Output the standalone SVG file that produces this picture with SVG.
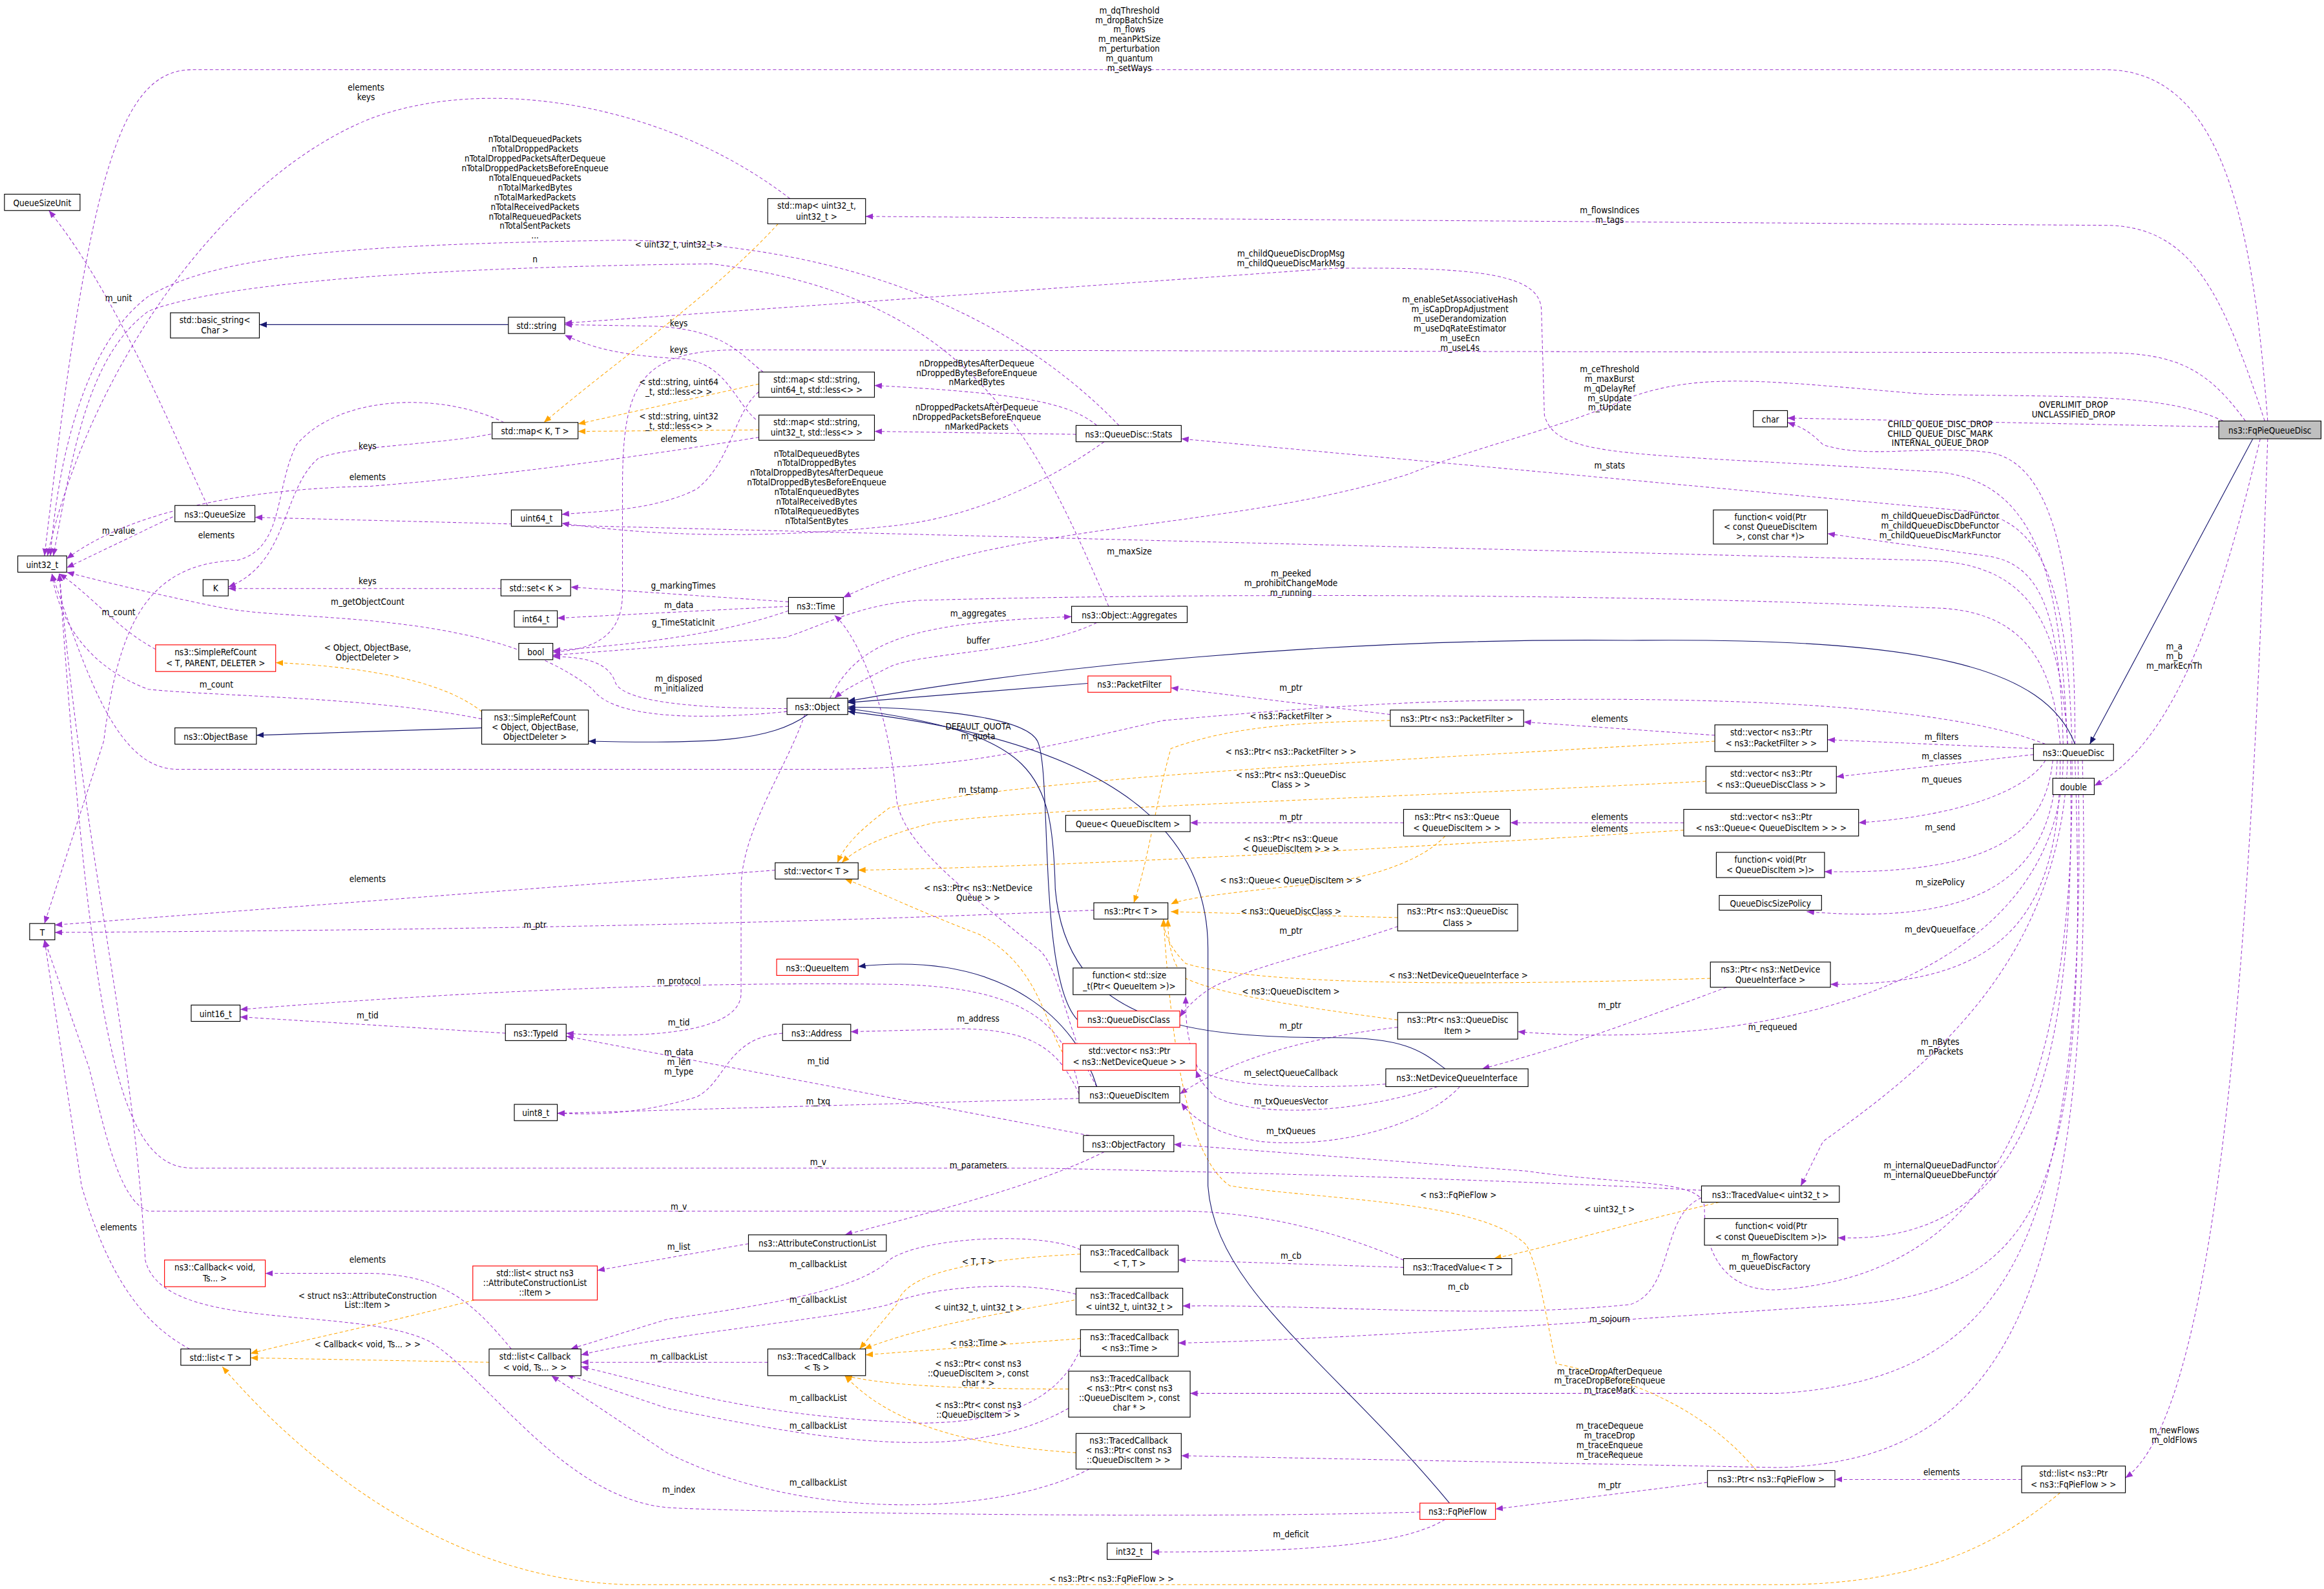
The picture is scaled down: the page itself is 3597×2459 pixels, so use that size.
<svg xmlns="http://www.w3.org/2000/svg" width="3597" height="2459" viewBox="0 0 3597 2459">
<defs>
<style>
.n rect{fill:#fff;stroke:#000;stroke-width:0.5}
.r rect{stroke:#f00}
.g rect{fill:#bfbfbf}
text{font-family:"DejaVu Sans Condensed","Liberation Sans",sans-serif;font-size:5.9px;fill:#000;text-anchor:middle}
.p{fill:none;stroke:#9a32cd;stroke-width:0.45;stroke-dasharray:2.2,1.6;marker-end:url(#ap)}
.o{fill:none;stroke:#ffa500;stroke-width:0.45;stroke-dasharray:2.2,1.6;marker-end:url(#ao)}
.b{fill:none;stroke:#191970;stroke-width:0.5;marker-end:url(#ab)}
</style>
<marker id="ap" markerUnits="userSpaceOnUse" viewBox="0 0 10 10" refX="10" refY="5" markerWidth="5" markerHeight="5" orient="auto"><path d="M0,1L10,5L0,9z" fill="#9a32cd"/></marker>
<marker id="ao" markerUnits="userSpaceOnUse" viewBox="0 0 10 10" refX="10" refY="5" markerWidth="5" markerHeight="5" orient="auto"><path d="M0,1L10,5L0,9z" fill="#ffa500"/></marker>
<marker id="ab" markerUnits="userSpaceOnUse" viewBox="0 0 10 10" refX="10" refY="5" markerWidth="5" markerHeight="5" orient="auto"><path d="M0,1L10,5L0,9z" fill="#191970"/></marker>
</defs>
<rect width="3597" height="2459" fill="#fff"/>
<g transform="scale(2.294)">
<g id="edges">
<path class="p" d="M1530,284 C1520,150 1500,47 1420,47 L130,47 C80,47 60,120 30,375"/>
<path class="p" d="M1528,284 C1500,200 1480,152 1420,152 L584,146"/>
<path class="p" d="M533,134 C450,70 330,50 250,80 C150,120 60,250 32,375"/>
<path class="p" d="M755,287 C700,230 600,165 420,162 C250,165 150,170 100,200 C60,230 40,300 34,375"/>
<path class="p" d="M748,409 C700,300 660,200 480,178 C300,180 150,190 100,210 C60,240 50,300 36,375"/>
<path class="p" d="M1395,502 C1390,400 1380,320 1300,318 C1100,305 1050,310 1042,280 L1040,210 C1040,185 1000,180 900,181 L381,218"/>
<path class="p" d="M1515,284 C1490,250 1470,238 1420,238 L500,236 C430,236 420,260 420,330 L420,400 C420,430 400,438 373,440"/>
<path class="p" d="M1500,284 C1460,265 1400,268 1300,266 C1200,258 1150,250 1100,268 C1050,290 1000,300 950,320 C820,360 680,350 569,403"/>
<path class="p" d="M1497,288 L1206,282"/>
<path class="p" d="M1400,502 C1400,400 1390,310 1340,305 C1300,300 1260,310 1230,300 C1220,290 1215,288 1206,285"/>
<path class="p" d="M1398,502 C1395,400 1380,350 1330,345 L797,296"/>
<path class="p" d="M740,287 C720,270 680,265 590,260"/>
<path class="p" d="M726,293 L590,291"/>
<path class="p" d="M745,298 C700,330 650,350 600,355 C500,365 430,360 379,353"/>
<path class="p" d="M515,251 C500,240 490,222 440,220 L381,219"/>
<path class="p" d="M510,283 C495,270 490,245 460,242 C420,240 400,235 381,226"/>
<path class="p" d="M515,262 C495,275 495,310 470,330 C440,345 400,345 379,347"/>
<path class="p" d="M512,295 C450,305 350,320 250,328 C150,330 80,350 45,377"/>
<path class="p" d="M335,292 C300,300 240,300 215,309 C190,330 195,380 154,396"/>
<path class="p" d="M340,285 C300,265 230,265 200,300 C185,330 192,370 160,378 C100,380 80,420 70,500 L30,623"/>
<path class="p" d="M120,347 L45,383"/>
<path class="p" d="M140,341 C120,300 80,200 33,142"/>
<path class="p" d="M1395,502 C1390,420 1370,380 1300,378 L172,349"/>
<path class="p" d="M338,397 L154,397"/>
<path class="p" d="M532,406 L385,396"/>
<path class="p" d="M532,409 L376,417"/>
<path class="p" d="M532,412 C480,430 420,435 373,439"/>
<path class="p" d="M1390,502 C1385,440 1360,410 1300,410 C1100,400 800,400 620,405 C580,408 560,420 530,430 L373,442"/>
<path class="p" d="M531,478 C480,478 420,475 415,460 C410,445 390,443 373,443"/>
<path class="p" d="M560,471 C580,430 620,420 723,416"/>
<path class="p" d="M740,420 C700,440 620,440 600,450 C580,460 570,465 563,471"/>
<path class="p" d="M105,438 C80,425 60,400 40,387"/>
<path class="p" d="M325,485 C250,470 150,470 100,465 C60,450 40,420 35,387"/>
<path class="p" d="M531,480 C450,488 410,480 400,465 C330,410 200,420 150,410 C100,400 60,390 45,386"/>
<path class="p" d="M1380,502 C1300,470 1100,470 985,473 C900,475 800,485 785,486 C700,505 650,519 550,519 L120,519 C80,519 60,460 35,387"/>
<path class="p" d="M938,482 L790,464"/>
<path class="p" d="M1157,496 L1028,487"/>
<path class="p" d="M1372,505 L1233,499"/>
<path class="p" d="M1372,509 L1239,524"/>
<path class="p" d="M1380,513 C1370,530 1330,550 1254,555"/>
<path class="p" d="M1136,555 L1019,555"/>
<path class="p" d="M947,555 L803,555"/>
<path class="p" d="M1385,513 C1380,560 1350,590 1231,588"/>
<path class="p" d="M1388,513 C1385,590 1340,625 1219,615"/>
<path class="p" d="M1390,513 C1390,620 1350,665 1235,664"/>
<path class="p" d="M1392,513 C1390,660 1200,710 1024,696"/>
<path class="p" d="M1395,513 C1390,650 1300,720 1230,770 L1215,800"/>
<path class="p" d="M1397,513 C1400,700 1380,840 1240,835"/>
<path class="p" d="M1392,502 C1390,420 1380,380 1340,375 L1233,360"/>
<path class="p" d="M1398,513 C1400,750 1340,860 1200,870 C1160,872 1150,840 1150,815 C1150,795 1100,800 1030,790 L792,772"/>
<path class="p" d="M1148,803 C1000,795 800,790 700,788 L130,788 C80,788 62,700 40,387"/>
<path class="p" d="M947,850 C900,830 850,818 800,817 L100,817 C80,810 70,760 60,720 L30,634"/>
<path class="p" d="M735,766 L382,699"/>
<path class="p" d="M745,777 C700,800 620,820 570,833"/>
<path class="p" d="M505,839 L403,857"/>
<path class="p" d="M345,910 C320,880 300,860 250,859 L179,859"/>
<path class="p" d="M341,697 L162,686"/>
<path class="p" d="M728,735 C720,690 690,665 600,664 C450,662 300,670 162,681"/>
<path class="p" d="M728,738 C715,710 700,695 650,694 L574,696"/>
<path class="p" d="M728,741 L376,751"/>
<path class="p" d="M528,697 C490,700 490,730 470,740 C430,752 400,752 376,751"/>
<path class="p" d="M543,482 C530,520 500,560 500,600 L500,670 C500,700 420,700 382,697"/>
<path class="p" d="M523,587 L37,624"/>
<path class="p" d="M738,614 C600,620 400,627 37,629"/>
<path class="p" d="M740,733 C720,700 715,650 700,640 C650,600 610,570 605,540 C600,480 580,430 563,415"/>
<path class="p" d="M943,625 C900,640 850,650 820,665 C810,670 800,680 796,686"/>
<path class="p" d="M943,693 C880,700 830,715 796,738"/>
<path class="p" d="M1165,666 C1100,690 1060,705 1000,721"/>
<path class="p" d="M950,730 C900,735 820,735 808,720 C800,700 800,685 800,672"/>
<path class="p" d="M970,733 C920,750 850,755 820,740 C812,732 809,728 807,722"/>
<path class="p" d="M985,733 C960,760 900,775 850,770 C820,765 805,755 797,744"/>
<path class="p" d="M947,855 L795,850"/>
<path class="p" d="M1148,808 C1120,820 1130,870 1100,880 C1000,890 900,880 798,881"/>
<path class="p" d="M1400,513 C1410,800 1380,870 1250,880 C1100,890 900,904 795,906"/>
<path class="p" d="M1402,513 C1410,850 1350,930 1200,940 L803,940"/>
<path class="p" d="M1405,513 C1415,900 1340,985 1200,990 L797,982"/>
<path class="p" d="M1152,1000 L1009,1018"/>
<path class="p" d="M1364,998 L1238,998"/>
<path class="p" d="M1530,296 C1520,600 1500,950 1434,997"/>
<path class="p" d="M1525,296 C1500,400 1470,500 1413,530"/>
<path class="p" d="M975,1025 C950,1040 900,1047 777,1047"/>
<path class="p" d="M958,1020 C800,1025 500,1020 450,1017 C380,1010 330,930 290,905 C240,880 110,900 98,850 C90,700 60,600 40,387"/>
<path class="p" d="M518,919 L392,919"/>
<path class="p" d="M729,843 C700,830 620,835 600,850 C580,870 520,880 450,890 L385,910"/>
<path class="p" d="M726,873 C680,862 620,870 600,880 C560,890 450,900 392,914"/>
<path class="p" d="M729,910 C720,930 700,960 620,960 C500,955 450,935 392,922"/>
<path class="p" d="M721,950 C650,990 550,970 450,950 L382,927"/>
<path class="p" d="M735,991 C680,1020 550,1030 450,980 L372,928"/>
<path class="p" d="M128,910 C90,890 70,850 55,800 L30,634"/>
<path class="o" d="M525,151 C480,200 420,240 367,285"/>
<path class="o" d="M512,259 L390,286"/>
<path class="o" d="M512,290 L390,291"/>
<path class="o" d="M325,480 C300,460 250,450 186,447"/>
<path class="o" d="M1157,500 C900,515 700,525 600,545 C580,560 570,570 565,582"/>
<path class="o" d="M1151,527 C900,540 700,545 630,555 C590,565 575,575 568,582"/>
<path class="o" d="M1136,560 C900,575 700,585 579,587"/>
<path class="o" d="M717,710 C705,690 700,650 660,630 C620,615 590,600 570,593"/>
<path class="o" d="M938,486 C880,487 830,490 790,505 C780,540 775,580 765,609"/>
<path class="o" d="M975,564 C960,580 930,590 900,595 C850,600 800,605 790,610"/>
<path class="o" d="M943,619 L790,615"/>
<path class="o" d="M1154,660 C1000,665 850,665 800,650 C790,640 785,630 785,620"/>
<path class="o" d="M943,688 C880,680 820,670 800,660 C790,650 788,635 788,620"/>
<path class="o" d="M1185,992 C1150,950 1100,930 1050,920 C1045,900 1040,860 1030,840 C1000,810 900,810 830,800 C800,780 790,700 785,620"/>
<path class="o" d="M1160,811 C1100,825 1050,840 1008,849"/>
<path class="o" d="M729,846 C650,850 610,860 605,880 L580,910"/>
<path class="o" d="M725,877 C680,885 620,895 583,910"/>
<path class="o" d="M729,903 L584,914"/>
<path class="o" d="M721,937 C650,937 600,935 570,928"/>
<path class="o" d="M726,980 C650,975 600,960 570,928"/>
<path class="o" d="M320,877 C250,895 200,905 169,913"/>
<path class="o" d="M330,919 L169,916"/>
<path class="o" d="M1390,1007 C1350,1040 1300,1069 1200,1069 L430,1069 C300,1069 200,980 150,922"/>
<path class="b" d="M343,219 L175,219"/>
<path class="b" d="M325,491 L173,496"/>
<path class="b" d="M545,482 C520,500 480,502 397,500"/>
<path class="b" d="M1400,502 C1380,450 1300,430 1100,432 C900,430 700,450 572,473"/>
<path class="b" d="M734,461 L572,474"/>
<path class="b" d="M1520,296 L1410,502"/>
<path class="b" d="M727,688 C700,660 710,520 700,500 C690,480 600,477 572,477"/>
<path class="b" d="M975,721 C960,710 950,700 900,700 C800,700 720,690 712,600 C710,520 700,495 572,478"/>
<path class="b" d="M978,1014 C900,920 820,870 815,800 L815,640 C815,560 750,500 572,480"/>
<path class="b" d="M740,733 C730,700 690,640 579,652"/>
</g>
<g id="labels">
<text x="762" y="9">m_dqThreshold</text><text x="762" y="15.5">m_dropBatchSize</text><text x="762" y="22">m_flows</text><text x="762" y="28.5">m_meanPktSize</text><text x="762" y="35">m_perturbation</text><text x="762" y="41.5">m_quantum</text><text x="762" y="48">m_setWays</text>
<text x="1086" y="144">m_flowsIndices</text><text x="1086" y="150.5">m_tags</text>
<text x="247" y="61">elements</text><text x="247" y="67.5">keys</text>
<text x="361" y="96">nTotalDequeuedPackets</text><text x="361" y="102.5">nTotalDroppedPackets</text><text x="361" y="109">nTotalDroppedPacketsAfterDequeue</text><text x="361" y="115.5">nTotalDroppedPacketsBeforeEnqueue</text><text x="361" y="122">nTotalEnqueuedPackets</text><text x="361" y="128.5">nTotalMarkedBytes</text><text x="361" y="135">nTotalMarkedPackets</text><text x="361" y="141.5">nTotalReceivedPackets</text><text x="361" y="148">nTotalRequeuedPackets</text><text x="361" y="154.5">nTotalSentPackets</text><text x="361" y="161">...</text>
<text x="458" y="167">&lt; uint32_t, uint32_t &gt;</text>
<text x="361" y="177">n</text>
<text x="871" y="173">m_childQueueDiscDropMsg</text><text x="871" y="179.5">m_childQueueDiscMarkMsg</text>
<text x="985" y="204">m_enableSetAssociativeHash</text><text x="985" y="210.5">m_isCapDropAdjustment</text><text x="985" y="217">m_useDerandomization</text><text x="985" y="223.5">m_useDqRateEstimator</text><text x="985" y="230">m_useEcn</text><text x="985" y="236.5">m_useL4s</text>
<text x="1086" y="251">m_ceThreshold</text><text x="1086" y="257.5">m_maxBurst</text><text x="1086" y="264">m_qDelayRef</text><text x="1086" y="270.5">m_sUpdate</text><text x="1086" y="277">m_tUpdate</text>
<text x="1399" y="275">OVERLIMIT_DROP</text><text x="1399" y="281.5">UNCLASSIFIED_DROP</text>
<text x="1309" y="288">CHILD_QUEUE_DISC_DROP</text><text x="1309" y="294.5">CHILD_QUEUE_DISC_MARK</text><text x="1309" y="301">INTERNAL_QUEUE_DROP</text>
<text x="1086" y="316">m_stats</text>
<text x="80" y="203">m_unit</text>
<text x="458" y="220">keys</text><text x="458" y="238">keys</text>
<text x="659" y="247">nDroppedBytesAfterDequeue</text><text x="659" y="253.5">nDroppedBytesBeforeEnqueue</text><text x="659" y="260">nMarkedBytes</text>
<text x="458" y="260">&lt; std::string, uint64</text><text x="458" y="266.5">_t, std::less&lt;&gt; &gt;</text>
<text x="659" y="277">nDroppedPacketsAfterDequeue</text><text x="659" y="283.5">nDroppedPacketsBeforeEnqueue</text><text x="659" y="290">nMarkedPackets</text>
<text x="458" y="283">&lt; std::string, uint32</text><text x="458" y="289.5">_t, std::less&lt;&gt; &gt;</text>
<text x="458" y="298">elements</text>
<text x="248" y="303">keys</text><text x="248" y="324">elements</text>
<text x="551" y="308">nTotalDequeuedBytes</text><text x="551" y="314.5">nTotalDroppedBytes</text><text x="551" y="321">nTotalDroppedBytesAfterDequeue</text><text x="551" y="327.5">nTotalDroppedBytesBeforeEnqueue</text><text x="551" y="334">nTotalEnqueuedBytes</text><text x="551" y="340.5">nTotalReceivedBytes</text><text x="551" y="347">nTotalRequeuedBytes</text><text x="551" y="353.5">nTotalSentBytes</text>
<text x="1309" y="350">m_childQueueDiscDadFunctor</text><text x="1309" y="356.5">m_childQueueDiscDbeFunctor</text><text x="1309" y="363">m_childQueueDiscMarkFunctor</text>
<text x="80" y="360">m_value</text><text x="146" y="363">elements</text>
<text x="762" y="374">m_maxSize</text>
<text x="871" y="389">m_peeked</text><text x="871" y="395.5">m_prohibitChangeMode</text><text x="871" y="402">m_running</text>
<text x="248" y="394">keys</text><text x="461" y="397">g_markingTimes</text><text x="458" y="410">m_data</text><text x="461" y="422">g_TimeStaticInit</text>
<text x="248" y="408">m_getObjectCount</text><text x="80" y="415">m_count</text>
<text x="660" y="416">m_aggregates</text><text x="660" y="434">buffer</text>
<text x="1467" y="438">m_a</text><text x="1467" y="444.5">m_b</text><text x="1467" y="451">m_markEcnTh</text>
<text x="248" y="439">&lt; Object, ObjectBase,</text><text x="248" y="445.5">ObjectDeleter &gt;</text>
<text x="458" y="460">m_disposed</text><text x="458" y="466.5">m_initialized</text><text x="146" y="464">m_count</text>
<text x="871" y="466">m_ptr</text>
<text x="871" y="485">&lt; ns3::PacketFilter &gt;</text><text x="1086" y="487">elements</text>
<text x="660" y="492">DEFAULT_QUOTA</text><text x="660" y="498.5">m_quota</text>
<text x="1310" y="499">m_filters</text><text x="871" y="509">&lt; ns3::Ptr&lt; ns3::PacketFilter &gt; &gt;</text>
<text x="1310" y="512">m_classes</text>
<text x="871" y="525">&lt; ns3::Ptr&lt; ns3::QueueDisc</text><text x="871" y="531.5">Class &gt; &gt;</text>
<text x="1310" y="528">m_queues</text><text x="660" y="535">m_tstamp</text>
<text x="871" y="553">m_ptr</text><text x="1086" y="553">elements</text><text x="1086" y="561">elements</text>
<text x="1309" y="560">m_send</text>
<text x="871" y="568">&lt; ns3::Ptr&lt; ns3::Queue</text><text x="871" y="574.5">&lt; QueueDiscItem &gt; &gt; &gt;</text>
<text x="248" y="595">elements</text>
<text x="871" y="596">&lt; ns3::Queue&lt; QueueDiscItem &gt; &gt;</text><text x="1309" y="597">m_sizePolicy</text>
<text x="660" y="601">&lt; ns3::Ptr&lt; ns3::NetDevice</text><text x="660" y="607.5">Queue &gt; &gt;</text>
<text x="871" y="617">&lt; ns3::QueueDiscClass &gt;</text><text x="361" y="626">m_ptr</text>
<text x="871" y="630">m_ptr</text><text x="1309" y="629">m_devQueueIface</text>
<text x="984" y="660">&lt; ns3::NetDeviceQueueInterface &gt;</text><text x="458" y="664">m_protocol</text>
<text x="871" y="671">&lt; ns3::QueueDiscItem &gt;</text><text x="1086" y="680">m_ptr</text>
<text x="248" y="687">m_tid</text><text x="660" y="689">m_address</text><text x="458" y="692">m_tid</text>
<text x="871" y="694">m_ptr</text><text x="1196" y="695">m_requeued</text>
<text x="1309" y="705">m_nBytes</text><text x="1309" y="711.5">m_nPackets</text>
<text x="458" y="712">m_data</text><text x="458" y="718.5">m_len</text><text x="458" y="725">m_type</text>
<text x="552" y="718">m_tid</text>
<text x="871" y="726">m_selectQueueCallback</text><text x="552" y="745">m_txq</text><text x="871" y="745">m_txQueuesVector</text>
<text x="871" y="765">m_txQueues</text>
<text x="552" y="786">m_v</text><text x="660" y="788">m_parameters</text>
<text x="1309" y="788">m_internalQueueDadFunctor</text><text x="1309" y="794.5">m_internalQueueDbeFunctor</text>
<text x="984" y="808">&lt; ns3::FqPieFlow &gt;</text><text x="458" y="816">m_v</text><text x="1086" y="818">&lt; uint32_t &gt;</text>
<text x="80" y="830">elements</text><text x="458" y="843">m_list</text>
<text x="871" y="849">m_cb</text><text x="1194" y="850">m_flowFactory</text><text x="1194" y="856.5">m_queueDiscFactory</text>
<text x="248" y="852">elements</text><text x="660" y="853">&lt; T, T &gt;</text><text x="552" y="855">m_callbackList</text>
<text x="984" y="870">m_cb</text><text x="248" y="876">&lt; struct ns3::AttributeConstruction</text><text x="248" y="882.5">List::Item &gt;</text>
<text x="552" y="879">m_callbackList</text><text x="660" y="884">&lt; uint32_t, uint32_t &gt;</text>
<text x="1086" y="892">m_sojourn</text><text x="660" y="908">&lt; ns3::Time &gt;</text><text x="248" y="909">&lt; Callback&lt; void, Ts... &gt; &gt;</text>
<text x="458" y="917">m_callbackList</text>
<text x="660" y="922">&lt; ns3::Ptr&lt; const ns3</text><text x="660" y="928.5">::QueueDiscItem &gt;, const</text><text x="660" y="935">char * &gt;</text>
<text x="1086" y="927">m_traceDropAfterDequeue</text><text x="1086" y="933.5">m_traceDropBeforeEnqueue</text><text x="1086" y="940">m_traceMark</text>
<text x="552" y="945">m_callbackList</text><text x="660" y="950">&lt; ns3::Ptr&lt; const ns3</text><text x="660" y="956.5">::QueueDiscItem &gt; &gt;</text>
<text x="552" y="964">m_callbackList</text>
<text x="1086" y="964">m_traceDequeue</text><text x="1086" y="970.5">m_traceDrop</text><text x="1086" y="977">m_traceEnqueue</text><text x="1086" y="983.5">m_traceRequeue</text>
<text x="1467" y="967">m_newFlows</text><text x="1467" y="973.5">m_oldFlows</text>
<text x="1310" y="995">elements</text><text x="552" y="1002">m_callbackList</text><text x="1086" y="1004">m_ptr</text>
<text x="458" y="1007">m_index</text><text x="871" y="1037">m_deficit</text>
<text x="750" y="1067">&lt; ns3::Ptr&lt; ns3::FqPieFlow &gt; &gt;</text>
</g>
<g id="n1" class="n"><rect x="3" y="131" width="51" height="11"/><text x="28.5" y="139">QueueSizeUnit</text></g>
<g id="n2" class="n"><rect x="12" y="375" width="33" height="11"/><text x="28.5" y="383">uint32_t</text></g>
<g id="n3" class="n"><rect x="115" y="211" width="60" height="17"/><text x="145" y="218">std::basic_string&lt;</text><text x="145" y="225">Char &gt;</text></g>
<g id="n4" class="n"><rect x="343" y="214" width="38" height="11"/><text x="362" y="222">std::string</text></g>
<g id="n5" class="n"><rect x="332" y="285" width="58" height="11"/><text x="361" y="293">std::map&lt; K, T &gt;</text></g>
<g id="n6" class="n"><rect x="518" y="134" width="66" height="17"/><text x="551" y="141">std::map&lt; uint32_t,</text><text x="551" y="148">uint32_t &gt;</text></g>
<g id="n7" class="n"><rect x="512" y="251" width="78" height="17"/><text x="551" y="258">std::map&lt; std::string,</text><text x="551" y="265">uint64_t, std::less&lt;&gt; &gt;</text></g>
<g id="n8" class="n"><rect x="512" y="280" width="78" height="17"/><text x="551" y="287">std::map&lt; std::string,</text><text x="551" y="294">uint32_t, std::less&lt;&gt; &gt;</text></g>
<g id="n9" class="n"><rect x="726" y="287" width="71" height="11"/><text x="761.5" y="295">ns3::QueueDisc::Stats</text></g>
<g id="n10" class="n"><rect x="345" y="344" width="34" height="11"/><text x="362" y="352">uint64_t</text></g>
<g id="n11" class="n"><rect x="118" y="341" width="54" height="11"/><text x="145" y="349">ns3::QueueSize</text></g>
<g id="n12" class="n"><rect x="137" y="391" width="17" height="11"/><text x="145.5" y="399">K</text></g>
<g id="n13" class="n"><rect x="338" y="391" width="47" height="11"/><text x="361.5" y="399">std::set&lt; K &gt;</text></g>
<g id="n14" class="n"><rect x="532" y="403" width="37" height="11"/><text x="550.5" y="411">ns3::Time</text></g>
<g id="n15" class="n"><rect x="347" y="412" width="29" height="11"/><text x="361.5" y="420">int64_t</text></g>
<g id="n16" class="n"><rect x="350" y="434" width="23" height="11"/><text x="361.5" y="442">bool</text></g>
<g id="n17" class="n"><rect x="723" y="409" width="78" height="11"/><text x="762" y="417">ns3::Object::Aggregates</text></g>
<g id="n18" class="n r"><rect x="105" y="435" width="81" height="18"/><text x="145.5" y="442">ns3::SimpleRefCount</text><text x="145.5" y="449.5">&lt; T, PARENT, DELETER &gt;</text></g>
<g id="n19" class="n"><rect x="325" y="479" width="72" height="23"/><text x="361" y="486">ns3::SimpleRefCount</text><text x="361" y="492.5">&lt; Object, ObjectBase,</text><text x="361" y="499">ObjectDeleter &gt;</text></g>
<g id="n20" class="n"><rect x="118" y="491" width="55" height="11"/><text x="145.5" y="499">ns3::ObjectBase</text></g>
<g id="n21" class="n"><rect x="531" y="471" width="41" height="11"/><text x="551.5" y="479">ns3::Object</text></g>
<g id="n22" class="n r"><rect x="734" y="456" width="56" height="11"/><text x="762" y="464">ns3::PacketFilter</text></g>
<g id="n23" class="n g"><rect x="1497" y="284" width="69" height="12"/><text x="1531.5" y="292.5">ns3::FqPieQueueDisc</text></g>
<g id="n24" class="n"><rect x="1183" y="277" width="23" height="11"/><text x="1194.5" y="285">char</text></g>
<g id="n25" class="n"><rect x="1156" y="344" width="77" height="23"/><text x="1194.5" y="351">function&lt; void(Ptr</text><text x="1194.5" y="357.5">&lt; const QueueDiscItem</text><text x="1194.5" y="364">&gt;, const char *)&gt;</text></g>
<g id="n26" class="n"><rect x="938" y="479" width="90" height="11"/><text x="983" y="487">ns3::Ptr&lt; ns3::PacketFilter &gt;</text></g>
<g id="n27" class="n"><rect x="1157" y="489" width="76" height="18"/><text x="1195" y="496">std::vector&lt; ns3::Ptr</text><text x="1195" y="503.5">&lt; ns3::PacketFilter &gt; &gt;</text></g>
<g id="n28" class="n"><rect x="1372" y="502" width="54" height="11"/><text x="1399" y="510">ns3::QueueDisc</text></g>
<g id="n29" class="n"><rect x="1151" y="517" width="88" height="18"/><text x="1195" y="524">std::vector&lt; ns3::Ptr</text><text x="1195" y="531.5">&lt; ns3::QueueDiscClass &gt; &gt;</text></g>
<g id="n30" class="n"><rect x="1385" y="525" width="28" height="11"/><text x="1399" y="533">double</text></g>
<g id="n31" class="n"><rect x="523" y="582" width="56" height="11"/><text x="551" y="590">std::vector&lt; T &gt;</text></g>
<g id="n32" class="n"><rect x="20" y="623" width="17" height="11"/><text x="28.5" y="631">T</text></g>
<g id="n33" class="n"><rect x="738" y="609" width="50" height="11"/><text x="763" y="617">ns3::Ptr&lt; T &gt;</text></g>
<g id="n34" class="n r"><rect x="524" y="647" width="55" height="11"/><text x="551.5" y="655">ns3::QueueItem</text></g>
<g id="n35" class="n"><rect x="129" y="678" width="33" height="11"/><text x="145.5" y="686">uint16_t</text></g>
<g id="n36" class="n"><rect x="341" y="691" width="41" height="11"/><text x="361.5" y="699">ns3::TypeId</text></g>
<g id="n37" class="n"><rect x="528" y="691" width="46" height="11"/><text x="551" y="699">ns3::Address</text></g>
<g id="n38" class="n"><rect x="347" y="745" width="29" height="11"/><text x="361.5" y="753">uint8_t</text></g>
<g id="n39" class="n"><rect x="505" y="833" width="93" height="11"/><text x="551.5" y="841">ns3::AttributeConstructionList</text></g>
<g id="n40" class="n r"><rect x="111" y="850" width="68" height="18"/><text x="145" y="857">ns3::Callback&lt; void,</text><text x="145" y="864.5">Ts... &gt;</text></g>
<g id="n41" class="n r"><rect x="319" y="854" width="84" height="23"/><text x="361" y="861">std::list&lt; struct ns3</text><text x="361" y="867.5">::AttributeConstructionList</text><text x="361" y="874">::Item &gt;</text></g>
<g id="n42" class="n"><rect x="122" y="910" width="47" height="11"/><text x="145.5" y="918">std::list&lt; T &gt;</text></g>
<g id="n43" class="n"><rect x="330" y="910" width="62" height="18"/><text x="361" y="917">std::list&lt; Callback</text><text x="361" y="924.5">&lt; void, Ts... &gt; &gt;</text></g>
<g id="n44" class="n"><rect x="518" y="910" width="66" height="18"/><text x="551" y="917">ns3::TracedCallback</text><text x="551" y="924.5">&lt; Ts &gt;</text></g>
<g id="n45" class="n"><rect x="747" y="1041" width="30" height="11"/><text x="762" y="1049">int32_t</text></g>
<g id="n46" class="n"><rect x="719" y="550" width="84" height="11"/><text x="761" y="558">Queue&lt; QueueDiscItem &gt;</text></g>
<g id="n47" class="n"><rect x="724" y="653" width="76" height="18"/><text x="762" y="660">function&lt; std::size</text><text x="762" y="667.5">_t(Ptr&lt; QueueItem &gt;)&gt;</text></g>
<g id="n48" class="n r"><rect x="727" y="682" width="69" height="11"/><text x="761.5" y="690">ns3::QueueDiscClass</text></g>
<g id="n49" class="n r"><rect x="717" y="704" width="90" height="18"/><text x="762" y="711">std::vector&lt; ns3::Ptr</text><text x="762" y="718.5">&lt; ns3::NetDeviceQueue &gt; &gt;</text></g>
<g id="n50" class="n"><rect x="728" y="733" width="68" height="11"/><text x="762" y="741">ns3::QueueDiscItem</text></g>
<g id="n51" class="n"><rect x="731" y="766" width="61" height="11"/><text x="761.5" y="774">ns3::ObjectFactory</text></g>
<g id="n52" class="n"><rect x="729" y="840" width="66" height="18"/><text x="762" y="847">ns3::TracedCallback</text><text x="762" y="854.5">&lt; T, T &gt;</text></g>
<g id="n53" class="n"><rect x="726" y="869" width="72" height="18"/><text x="762" y="876">ns3::TracedCallback</text><text x="762" y="883.5">&lt; uint32_t, uint32_t &gt;</text></g>
<g id="n54" class="n"><rect x="729" y="897" width="66" height="18"/><text x="762" y="904">ns3::TracedCallback</text><text x="762" y="911.5">&lt; ns3::Time &gt;</text></g>
<g id="n55" class="n"><rect x="721" y="925" width="82" height="31"/><text x="762" y="932">ns3::TracedCallback</text><text x="762" y="938.5">&lt; ns3::Ptr&lt; const ns3</text><text x="762" y="945">::QueueDiscItem &gt;, const</text><text x="762" y="951.5">char * &gt;</text></g>
<g id="n56" class="n"><rect x="726" y="967" width="71" height="24"/><text x="761.5" y="974">ns3::TracedCallback</text><text x="761.5" y="980.5">&lt; ns3::Ptr&lt; const ns3</text><text x="761.5" y="987">::QueueDiscItem &gt; &gt;</text></g>
<g id="n57" class="n"><rect x="947" y="546" width="72" height="18"/><text x="983" y="553">ns3::Ptr&lt; ns3::Queue</text><text x="983" y="560.5">&lt; QueueDiscItem &gt; &gt;</text></g>
<g id="n58" class="n"><rect x="1136" y="546" width="118" height="18"/><text x="1195" y="553">std::vector&lt; ns3::Ptr</text><text x="1195" y="560.5">&lt; ns3::Queue&lt; QueueDiscItem &gt; &gt; &gt;</text></g>
<g id="n59" class="n"><rect x="1158" y="575" width="73" height="17"/><text x="1194.5" y="582">function&lt; void(Ptr</text><text x="1194.5" y="589">&lt; QueueDiscItem &gt;)&gt;</text></g>
<g id="n60" class="n"><rect x="1160" y="604" width="69" height="10"/><text x="1194.5" y="611.5">QueueDiscSizePolicy</text></g>
<g id="n61" class="n"><rect x="943" y="610" width="81" height="18"/><text x="983.5" y="617">ns3::Ptr&lt; ns3::QueueDisc</text><text x="983.5" y="624.5">Class &gt;</text></g>
<g id="n62" class="n"><rect x="1154" y="649" width="81" height="17"/><text x="1194.5" y="656">ns3::Ptr&lt; ns3::NetDevice</text><text x="1194.5" y="663">QueueInterface &gt;</text></g>
<g id="n63" class="n"><rect x="943" y="683" width="81" height="18"/><text x="983.5" y="690">ns3::Ptr&lt; ns3::QueueDisc</text><text x="983.5" y="697.5">Item &gt;</text></g>
<g id="n64" class="n"><rect x="935" y="721" width="96" height="12"/><text x="983" y="729.5">ns3::NetDeviceQueueInterface</text></g>
<g id="n65" class="n"><rect x="1148" y="800" width="93" height="11"/><text x="1194.5" y="808">ns3::TracedValue&lt; uint32_t &gt;</text></g>
<g id="n66" class="n"><rect x="1150" y="822" width="90" height="18"/><text x="1195" y="829">function&lt; void(Ptr</text><text x="1195" y="836.5">&lt; const QueueDiscItem &gt;)&gt;</text></g>
<g id="n67" class="n"><rect x="947" y="849" width="73" height="11"/><text x="983.5" y="857">ns3::TracedValue&lt; T &gt;</text></g>
<g id="n68" class="n"><rect x="1152" y="992" width="86" height="11"/><text x="1195" y="1000">ns3::Ptr&lt; ns3::FqPieFlow &gt;</text></g>
<g id="n69" class="n"><rect x="1364" y="989" width="70" height="18"/><text x="1399" y="996">std::list&lt; ns3::Ptr</text><text x="1399" y="1003.5">&lt; ns3::FqPieFlow &gt; &gt;</text></g>
<g id="n70" class="n r"><rect x="958" y="1014" width="51" height="11"/><text x="983.5" y="1022">ns3::FqPieFlow</text></g>
</g>
</svg>
